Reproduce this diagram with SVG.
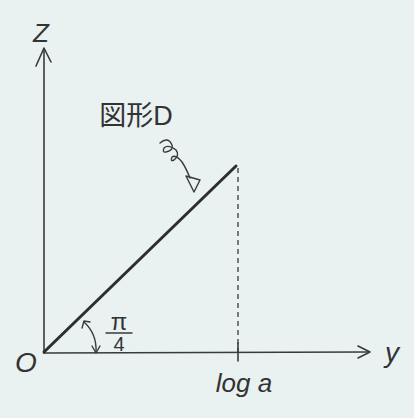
<svg xmlns="http://www.w3.org/2000/svg" width="414" height="418" viewBox="0 0 414 418">
<style>
.ax{stroke:#3a3a3a;stroke-width:1.6;fill:none;stroke-linecap:round;stroke-linejoin:round}
.hand{stroke:#3a3a3a;stroke-width:1.4;fill:none;stroke-linecap:round;stroke-linejoin:round}
.t{font-family:"Liberation Sans","Noto Sans CJK JP",sans-serif;fill:#333;font-style:italic}
.u{font-family:"Liberation Sans","Noto Sans CJK JP",sans-serif;fill:#333}
</style>
<rect width="414" height="418" fill="#e9f1f1"/>
<g id="connectors">
<path class="ax" d="M44,353 L44,50"/>
<path class="ax" d="M36,66 L44,48 L51,62"/>
<path class="ax" d="M44,353 L368,352"/>
<path class="ax" d="M358,346 L370,352 L358,358"/>
<path d="M44,352 L236,166" stroke="#2e2e2e" stroke-width="3" fill="none" stroke-linecap="round"/>
<path d="M238,168 L238,352" stroke="#3a3a3a" stroke-width="1.3" stroke-dasharray="5,4" fill="none"/>
<path class="ax" d="M238,343 L238,361"/>
<path class="hand" d="M84,322 Q97,334 96,352"/>
<path class="hand" d="M82,328 L84,321 L90,322"/>
<path class="hand" d="M92,346 L96,353 L100,346"/>
<path class="hand" d="M160,143 Q168,136 172,145 Q174,150 166,152 Q162,153 164,148 Q168,144 176,150 Q180,155 174,160 Q170,162 172,157 Q176,154 182,162 Q186,168 190,178"/>
<path class="hand" d="M186,176 L194,192 L200,180 Z"/>
</g>
<g id="labels">
<text class="t" x="41" y="42" font-size="26" text-anchor="middle">Z</text>
<text class="t" x="26" y="372" font-size="28" text-anchor="middle">O</text>
<text class="t" x="392" y="362" font-size="28" text-anchor="middle">y</text>
<text class="t" x="244" y="392" font-size="26" text-anchor="middle">log a</text>
<text class="u" x="119" y="330" font-size="24" text-anchor="middle">π</text>
<path class="hand" d="M106,333 L132,333"/>
<text class="u" x="119" y="351" font-size="20" text-anchor="middle">4</text>
<text class="u" x="136" y="125" font-size="27" text-anchor="middle">図形D</text>
</g>
</svg>
